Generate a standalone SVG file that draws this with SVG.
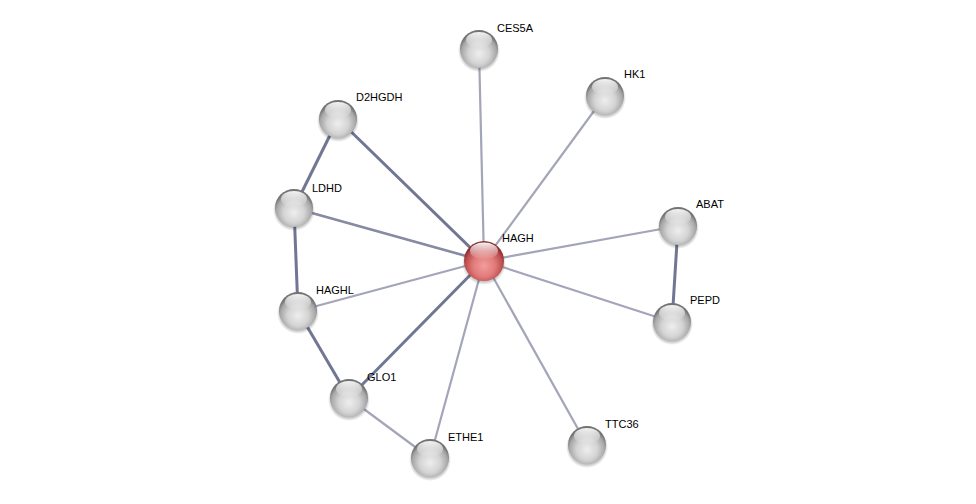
<svg xmlns="http://www.w3.org/2000/svg" width="976" height="504" viewBox="0 0 976 504">
<defs>
<radialGradient id="gball" cx="0.5" cy="0.62" r="0.55">
<stop offset="0" stop-color="#eeeeee"/>
<stop offset="0.5" stop-color="#d4d4d4"/>
<stop offset="0.85" stop-color="#a6a6a6"/>
<stop offset="1" stop-color="#737373"/>
</radialGradient>
<radialGradient id="rball" cx="0.5" cy="0.62" r="0.55">
<stop offset="0" stop-color="#f39c9c"/>
<stop offset="0.5" stop-color="#e27b7b"/>
<stop offset="0.85" stop-color="#bb4c4c"/>
<stop offset="1" stop-color="#8e3030"/>
</radialGradient>
<linearGradient id="hl" x1="0" y1="0" x2="0" y2="1">
<stop offset="0" stop-color="#ffffff" stop-opacity="0.95"/>
<stop offset="1" stop-color="#ffffff" stop-opacity="0"/>
</linearGradient>
<radialGradient id="sh" cx="0.5" cy="0.5" r="0.5">
<stop offset="0.75" stop-color="#000" stop-opacity="0.35"/>
<stop offset="1" stop-color="#000" stop-opacity="0"/>
</radialGradient>
<g id="ball">
<circle cx="0" cy="2" r="21" fill="url(#sh)"/>
<circle r="19" fill="url(#gball)"/>
<ellipse cx="0" cy="-9" rx="13" ry="8" fill="url(#hl)"/>
</g>
<g id="rballg">
<circle cx="0" cy="2" r="22" fill="url(#sh)"/>
<circle r="20" fill="url(#rball)"/>
<ellipse cx="0" cy="-10" rx="14" ry="8.5" fill="url(#hl)"/>
</g>
</defs>
<style>
.thin{stroke:#a3a5b8;stroke-width:2.2;fill:none}
.thick{stroke:#717792;stroke-width:3;fill:none}
.mid{stroke:#868aa2;stroke-width:2.6;fill:none}
text{font-family:"Liberation Sans",Arial,sans-serif;font-size:11px;fill:#000}
</style>
<rect width="976" height="504" fill="#fff"/>
<g id="edges">
<line class="thin" x1="484" y1="261" x2="479" y2="49"/>
<line class="thin" x1="484" y1="261" x2="605" y2="96"/>
<line class="thin" x1="484" y1="261" x2="678" y2="226"/>
<line class="thin" x1="484" y1="261" x2="672" y2="322"/>
<line class="thin" x1="484" y1="261" x2="587" y2="445"/>
<line class="thin" x1="484" y1="261" x2="430" y2="458"/>
<line class="thin" x1="484" y1="261" x2="298" y2="311"/>
<line class="thin" x1="349" y1="398" x2="430" y2="458"/>
<line class="mid" x1="484" y1="261" x2="294" y2="208"/>
<line class="thick" x1="484" y1="261" x2="338" y2="119"/>
<line class="thick" x1="484" y1="261" x2="349" y2="398"/>
<line class="thick" x1="338" y1="119" x2="294" y2="208"/>
<line class="thick" x1="294" y1="208" x2="298" y2="311"/>
<line class="thick" x1="298" y1="311" x2="349" y2="398"/>
<line class="thick" x1="678" y1="226" x2="672" y2="322"/>
</g>
<g id="CES5A"><use href="#ball" x="479" y="49"/><text x="497" y="32">CES5A</text></g>
<g id="HK1"><use href="#ball" x="605" y="96"/><text x="624" y="78">HK1</text></g>
<g id="D2HGDH"><use href="#ball" x="338" y="119"/><text x="356" y="101">D2HGDH</text></g>
<g id="LDHD"><use href="#ball" x="294" y="208"/><text x="312" y="192">LDHD</text></g>
<g id="ABAT"><use href="#ball" x="678" y="226"/><text x="696" y="208">ABAT</text></g>
<g id="HAGHL"><use href="#ball" x="298" y="311"/><text x="316" y="294">HAGHL</text></g>
<g id="PEPD"><use href="#ball" x="672" y="322"/><text x="690" y="304">PEPD</text></g>
<g id="GLO1"><use href="#ball" x="349" y="398"/><text x="367" y="381">GLO1</text></g>
<g id="ETHE1"><use href="#ball" x="430" y="458"/><text x="448" y="441">ETHE1</text></g>
<g id="TTC36"><use href="#ball" x="587" y="445"/><text x="605" y="428">TTC36</text></g>
<g id="HAGH"><use href="#rballg" x="484" y="261"/><text x="502" y="242">HAGH</text></g>
</svg>
